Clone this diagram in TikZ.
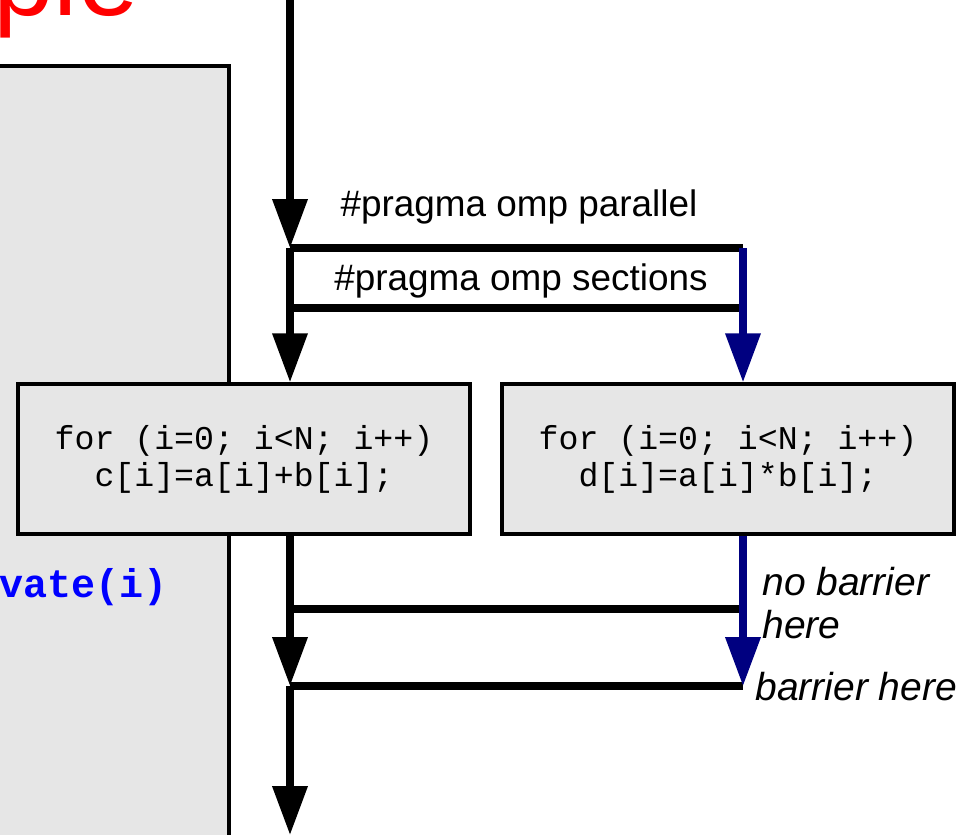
\documentclass[tikz,border=0pt]{standalone}
\usepackage{fontspec}
\setmainfont{Liberation Sans}
\setmonofont{Liberation Mono}
\usetikzlibrary{arrows.meta}
\definecolor{flownavy}{RGB}{0,0,128}
\definecolor{codegray}{RGB}{230,230,230}

\begin{document}
\begin{tikzpicture}[x=0.02cm, y=-0.02cm,
	bar/.style={line width=4pt},
	flow/.style={line width=4pt, -{Triangle[width=0.68cm, length=0.98cm]}},
	codebox/.style={draw, line width=2pt, fill=codegray, minimum width=9.04cm, minimum height=3cm, align=center, font=\ttfamily\fontsize{18.9pt}{21pt}\selectfont},
	pragma/.style={anchor=base, inner sep=0, font=\fontsize{21pt}{24pt}\selectfont},
	remark/.style={inner sep=0, font=\itshape\fontsize{22.2pt}{24.5pt}\selectfont}]
	\useasboundingbox (0,0) rectangle (965,835);
	\clip (0,0) rectangle (965,835);

	\node[anchor=base east, inner sep=0, text=red, font=\fontsize{62pt}{70pt}\selectfont] (title) at (139,15) {Example};
	\draw[line width=2pt, fill=codegray] (-20,66) rectangle (229,900);
	\node[anchor=base east, inner sep=0, text=blue, font=\ttfamily\bfseries\fontsize{22.8pt}{25pt}\selectfont] (priv) at (168,597) {private(i)};

	\coordinate (top) at (290,-10);
	\coordinate (fork) at (290,248);
	\coordinate (forkR) at (743,248);
	\coordinate (sec) at (290,308);
	\coordinate (secR) at (743,308);
	\coordinate (nowait) at (290,609);
	\coordinate (nowaitR) at (743,609);
	\coordinate (join) at (290,686);
	\coordinate (joinR) at (743,686);
	\coordinate (end) at (290,835);

	\node[codebox] (loopA) at (244,459) {for (i=0; i<N; i++)\\c[i]=a[i]+b[i];};
	\node[codebox] (loopB) at (728,459) {for (i=0; i<N; i++)\\d[i]=a[i]*b[i];};

	\node[pragma] (parlabel) at (519,216) {\#pragma omp parallel};
	\node[pragma] (seclabel) at (521,290) {\#pragma omp sections};

	\draw[flow] (top) -- (fork);
	\draw[bar] (fork) -- (forkR);
	\draw[bar] (sec) -- (secR);
	\draw[flow] (fork) -- (fork |- loopA.north);
	\draw[flow, flownavy] (forkR) -- (forkR |- loopB.north);

	\draw[bar] (nowait) -- (nowaitR);
	\draw[bar] (join) -- (joinR);
	\draw[flow] (loopA.south -| fork) -- (join);
	\draw[flow, flownavy] (loopB.south -| forkR) -- (joinR);
	\draw[flow] (join) -- (end);

	\node[remark, anchor=north west, align=left] (nobar) at (762,567) {no barrier\\here};
	\node[remark, anchor=base west] (bar) at (755,700) {barrier here};
\end{tikzpicture}
\end{document}
